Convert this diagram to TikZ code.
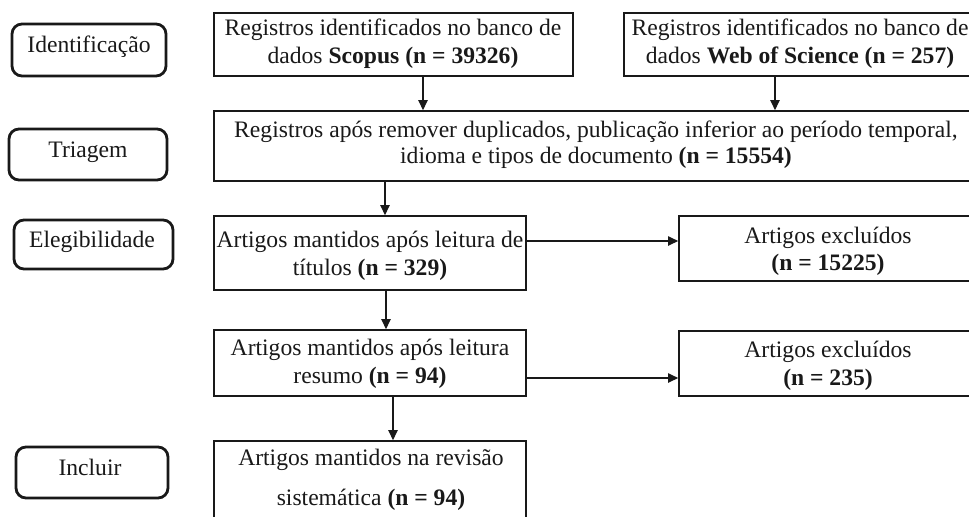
\documentclass[tikz,border=0pt]{standalone}
\usepackage{fontspec}
\setmainfont{Liberation Serif}
\usetikzlibrary{arrows.meta,calc}
\definecolor{ink}{RGB}{25,25,25}
\tikzset{
  box/.style={draw=ink, line width=0.8pt, rectangle, inner sep=0pt},
  stage/.style={draw=ink, line width=1.4pt, rectangle, rounded corners=5pt, inner sep=0pt},
  txt/.style={anchor=base, align=center, inner sep=0pt, text=ink,
     font=\fontsize{11.8}{14}\selectfont},
  arr/.style={draw=ink, line width=0.65pt, -{Triangle[length=5pt,width=4.6pt]}},
}
\begin{document}
\begin{tikzpicture}[x=0.5pt,y=-0.5pt]
\useasboundingbox (0,0) rectangle (969,516);
\clip (0,0) rectangle (969,516);
\fill[white] (0,0) rectangle (969,516);

% stage labels
\node[stage, minimum width=77pt, minimum height=26pt] (lab1) at (89,50) {};
\node[stage, minimum width=79pt, minimum height=25.5pt] (lab2) at (88,154.5) {};
\node[stage, minimum width=79.5pt, minimum height=24.5pt] (lab3) at (93.5,244.5) {};
\node[stage, minimum width=76pt, minimum height=25.5pt] (lab4) at (92,472.5) {};
\node[txt] (tlab1) at (89,52) {Identificação};
\node[txt] (tlab2) at (88,157) {Triagem};
\node[txt] (tlab3) at (92,247) {Elegibilidade};
\node[txt] (tlab4) at (90,475) {Incluir};

% boxes
\node[box, minimum width=179.5pt, minimum height=31.5pt] (scopus) at (393.5,44.5) {};
\node[box, minimum width=176pt, minimum height=31.5pt] (wos) at (800,44.5) {};
\node[box, minimum width=382pt, minimum height=35pt] (main) at (596,146) {};
\node[box, minimum width=156pt, minimum height=37pt] (tit) at (370,253) {};
\node[box, minimum width=149pt, minimum height=32.5pt] (exc1) at (828,248.5) {};
\node[box, minimum width=156pt, minimum height=33pt] (res) at (370,363) {};
\node[box, minimum width=149pt, minimum height=32.5pt] (exc2) at (828,363.5) {};
\node[box, minimum width=156pt, minimum height=59pt] (fin) at (370,500) {};

% texts (anchor base = baseline of last line)
\node[txt] (tscopus) at (393,63) {Registros identificados no banco de\\dados \textbf{Scopus (n = 39326)}};
\node[txt] (twos) at (800,63) {Registros identificados no banco de\\dados \textbf{Web of Science (n = 257)}};
\node[txt] (tmain) at (596,163) {Registros após remover duplicados, publicação inferior ao período temporal,\\[-1pt]idioma e tipos de documento \textbf{(n = 15554)}};
\node[txt] (ttit) at (370,275) {Artigos mantidos após leitura de\\títulos \textbf{(n = 329)}};
\node[txt] (texc1) at (828,270) {Artigos excluídos\\[-0.5pt]\textbf{(n = 15225)}};
\node[txt] (tres) at (370,383) {Artigos mantidos após leitura\\resumo \textbf{(n = 94)}};
\node[txt] (texc2) at (828,385) {Artigos excluídos\\\textbf{(n = 235)}};
\node[txt] (tfin) at (371,505) {Artigos mantidos na revisão\\[6pt]sistemática \textbf{(n = 94)}};

% connectors
\draw[arr] ([xshift=14.75pt]scopus.south) -- ([xshift=14.75pt]scopus.south |- main.north);
\draw[arr] ([xshift=-12.5pt]wos.south) -- ([xshift=-12.5pt]wos.south |- main.north);
\draw[arr] ([xshift=7.5pt]tit.north |- main.south) -- ([xshift=7.5pt]tit.north);
\draw[arr] ([xshift=8pt]tit.south) -- ([xshift=8pt]tit.south |- res.north);
\draw[arr] ([xshift=11.5pt]res.south) -- ([xshift=11.5pt]res.south |- fin.north);
\draw[arr] ([yshift=6pt]tit.east) -- ([yshift=6pt]tit.east -| exc1.west);
\draw[arr] ([yshift=-7.5pt]res.east) -- ([yshift=-7.5pt]res.east -| exc2.west);
\end{tikzpicture}
\end{document}
